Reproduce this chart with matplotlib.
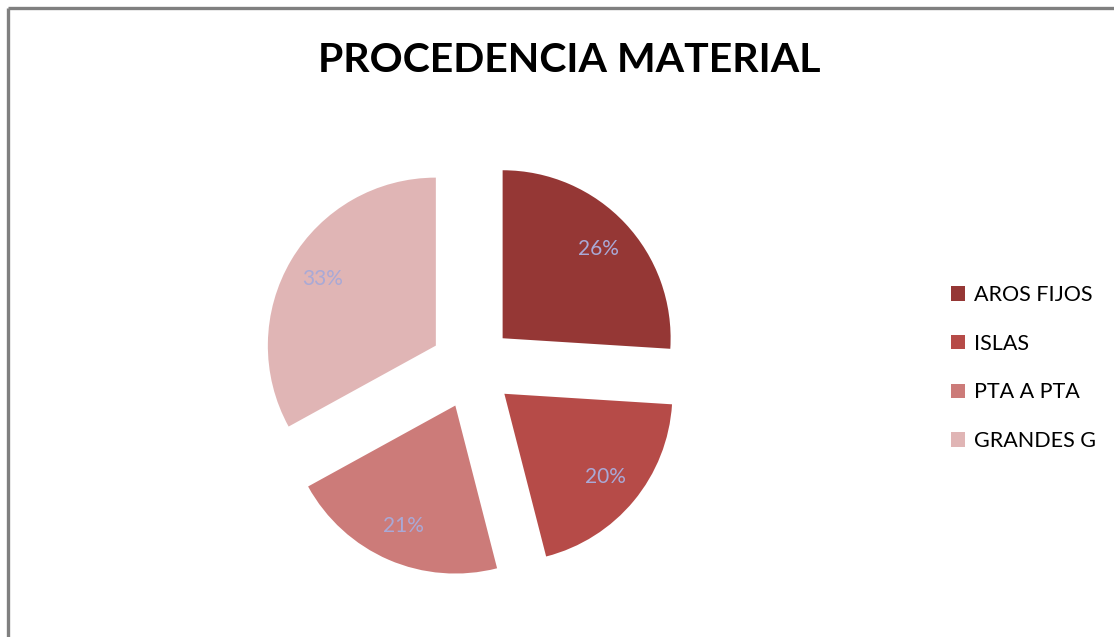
import matplotlib
matplotlib.use("Agg")

import matplotlib.pyplot as plt
from matplotlib.lines import Line2D
from matplotlib.patches import Patch

plt.rcParams["font.family"] = ["Lato", "DejaVu Sans"]

# datos
categorias = ["AROS FIJOS", "ISLAS", "PTA A PTA", "GRANDES G"]
porcentajes = [26, 20, 21, 33]
colores = ["#953735", "#B64B48", "#CC7B79", "#E0B5B5"]

W, H = 1114, 637
fig = plt.figure(figsize=(W / 100, H / 100), dpi=100)

# caja del pie en pixeles (centro aprox 472,367; radio 168 px)
cx, cy, r, half = 472, 367, 168, 260
ax = fig.add_axes([(cx - half) / W, (H - cy - half) / H, 2 * half / W, 2 * half / H])

wedges, _, autotexts = ax.pie(
    porcentajes,
    colors=colores,
    startangle=90,
    counterclock=False,
    explode=[0.25] * len(porcentajes),
    autopct="%1.0f%%",
    pctdistance=0.78,
    wedgeprops=dict(linewidth=0),
)
for t in autotexts:
    t.set_color("#A9A9D6")
    t.set_fontsize(15)

lim = half / r
ax.set_xlim(-lim, lim)
ax.set_ylim(-lim, lim)
ax.set_aspect("auto")

fig.text(569 / W, 1 - 61 / H, "PROCEDENCIA MATERIAL", ha="center", va="center",
         fontsize=29.5, fontweight="bold", color="black")

handles = [Patch(facecolor=c, edgecolor="none") for c in colores]
fig.legend(handles, categorias, loc="center left", bbox_to_anchor=(951 / W, 1 - 368 / H),
           frameon=False, fontsize=15.5, handlelength=0.65, handleheight=0.65,
           handletextpad=0.4, labelspacing=1.33, borderpad=0, borderaxespad=0)

# borde gris (solo izquierda y arriba visibles)
fig.add_artist(Line2D([8 / W, 8 / W], [0, 1 - 8 / H], color="#808080", lw=2.4,
                      transform=fig.transFigure, solid_capstyle="butt"))
fig.add_artist(Line2D([8 / W, 1], [1 - 8 / H, 1 - 8 / H], color="#808080", lw=2.4,
                      transform=fig.transFigure, solid_capstyle="butt"))

plt.savefig("out.png", dpi=100)
